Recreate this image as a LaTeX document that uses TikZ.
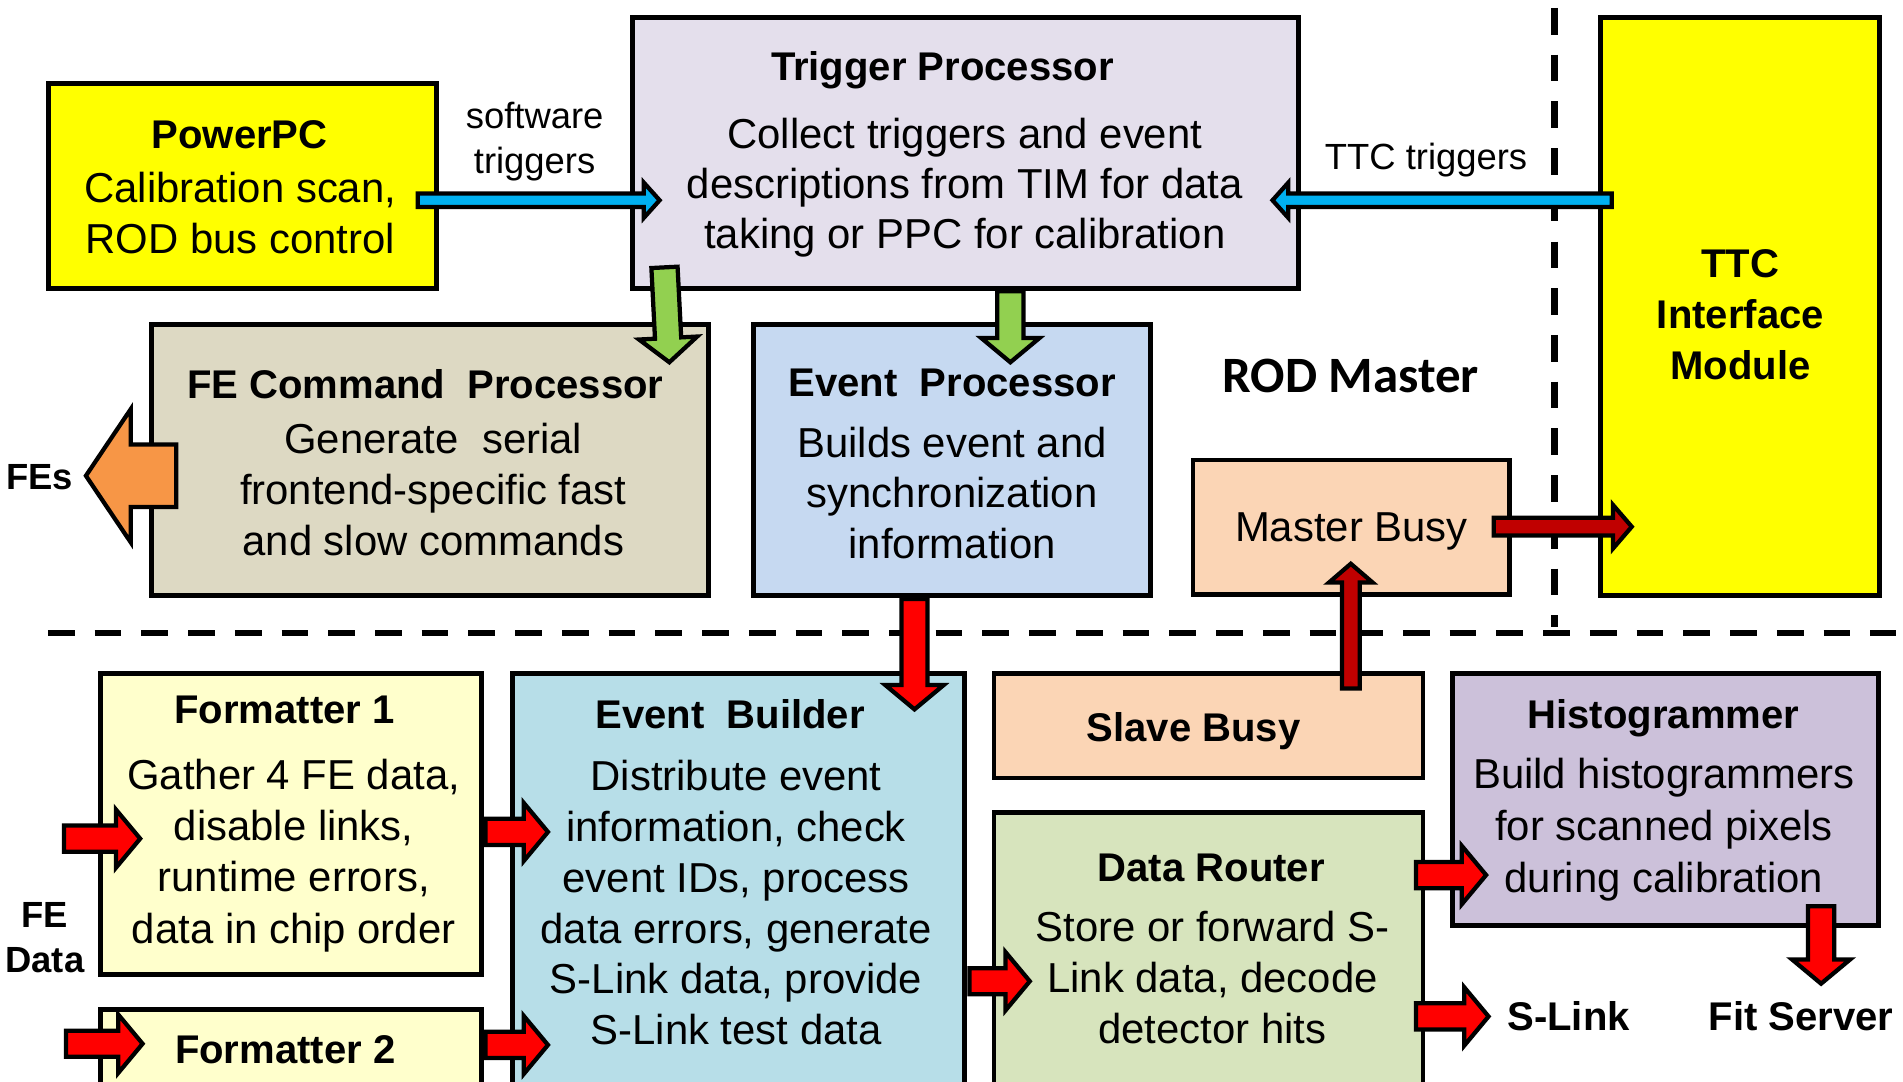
\documentclass[tikz,border=0pt]{standalone}
\usepackage{fontspec}
\setmainfont{Liberation Sans}
\newfontfamily\rodfont{Carlito}
\usetikzlibrary{calc}

% module fills
\definecolor{ppcyellow}{HTML}{FFFF00}
\definecolor{trigfill}{HTML}{E4DFEC}
\definecolor{fecfill}{HTML}{DDD9C3}
\definecolor{evpfill}{HTML}{C6D9F1}
\definecolor{busyfill}{HTML}{FBD5B5}
\definecolor{fmtfill}{HTML}{FFFFCC}
\definecolor{evbfill}{HTML}{B7DEE8}
\definecolor{drtfill}{HTML}{D7E4BD}
\definecolor{histfill}{HTML}{CCC1DA}
% arrow fills
\definecolor{trigblue}{HTML}{00B0F0}
\definecolor{cmdgreen}{HTML}{92D050}
\definecolor{feorange}{HTML}{F79646}
\definecolor{datared}{HTML}{FF0000}
\definecolor{busyred}{HTML}{C00000}

% multi-line texts are placed by the baseline of their last line
\tikzset{
  modbox/.style={draw=black, line width=4pt, rectangle, inner sep=0pt},
  arrowline/.style={draw=black, line width=3.5pt, line join=miter},
  sepline/.style={line width=5.5pt, dash pattern=on 22pt off 16.5pt},
  boxtitle/.style={font=\bfseries\fontsize{33}{42}\selectfont, inner sep=0pt, align=center, anchor=base},
  boxbody/.style={font=\fontsize{34.5}{42}\selectfont, inner sep=0pt, align=center, anchor=base},
  sidelabel/.style={font=\fontsize{30}{37}\selectfont, inner sep=0pt, align=center, anchor=base},
  outlabel/.style={font=\bfseries\fontsize{30}{37.5}\selectfont, inner sep=0pt, align=center, anchor=base},
  sinklabel/.style={font=\bfseries\fontsize{33}{42}\selectfont, inner sep=0pt, anchor=base},
}

% module box from its corners: name, x1, y1, x2, y2, fill
\newcommand{\RodBox}[6]{%
  \node[modbox, fill=#6, minimum width={(#4-#2)*1pt}, minimum height={(#5-#3)*1pt}]
    (#1) at ({(#2+#4)/2},{(#3+#5)/2}) {};}

% outlined block arrow: fill, half shaft, half head, head length, from, to
\newcommand{\BlkArrow}[6]{%
  \coordinate (bac) at ($(#6)!#4!(#5)$);
  \filldraw[arrowline, fill=#1]
    ($(#5)!#2!90:(#6)$) -- ($(bac)!#2!90:(#6)$) -- ($(bac)!#3!90:(#6)$) -- (#6)
    -- ($(bac)!#3!-90:(#6)$) -- ($(bac)!#2!-90:(#6)$) -- ($(#5)!#2!-90:(#6)$) -- cycle;}
\newcommand{\TrigArrow}[2]{\BlkArrow{trigblue}{5.5pt}{14.5pt}{13pt}{#1}{#2}}
\newcommand{\FlowArrow}[3]{\BlkArrow{#1}{10.8pt}{24pt}{20pt}{#2}{#3}}
\newcommand{\BusyArrow}[2]{\BlkArrow{busyred}{7.3pt}{18pt}{15.5pt}{#1}{#2}}
\newcommand{\FeArrow}[2]{\BlkArrow{feorange}{25.7pt}{55pt}{37pt}{#1}{#2}}

\begin{document}
\begin{tikzpicture}[x=1pt, y=-1pt]
\useasboundingbox (0,0) rectangle (1568,891);
\fill[white] (0,0) rectangle (1568,891);
\clip (0,0) rectangle (1568,891);

% ROD master / slave and ROD / TIM separators
\coordinate (hsep-w) at (39.5,521.5);
\coordinate (hsep-e) at (1562,521.5);
\coordinate (vsep-n) at (1281,6.5);
\coordinate (vsep-s) at (1281,516.5);
\draw[sepline] (hsep-w) -- (hsep-e);
\draw[sepline] (vsep-n) -- (vsep-s);

% modules
\RodBox{ppc}{40}{68.5}{359.5}{238}{ppcyellow}
\RodBox{trig}{521.5}{14.5}{1070}{237.5}{trigfill}
\RodBox{ttc}{1318.5}{14.5}{1548.5}{491}{ppcyellow}
\RodBox{fec}{124.5}{267.5}{584}{491}{fecfill}
\RodBox{evp}{621}{267.5}{948}{491}{evpfill}
\RodBox{mbusy}{983}{379}{1244}{489.5}{busyfill}
\RodBox{fmt1}{82.5}{555}{397}{803}{fmtfill}
\RodBox{fmt2}{82.5}{831.5}{397}{960}{fmtfill}
\RodBox{evb}{422}{555}{795}{960}{evbfill}
\RodBox{sbusy}{819}{555}{1172.5}{641}{busyfill}
\RodBox{drt}{819}{669.5}{1172.5}{960}{drtfill}
\RodBox{hist}{1197}{555}{1548}{762.5}{histfill}

% module texts
\node[boxtitle] (ppc-t) at (197.5,122) {PowerPC};
\node[boxbody] (ppc-b) at (198,208.5) {Calibration scan,\\ROD bus control};
\node[boxtitle] (trig-t) at (776.5,66) {Trigger Processor};
\node[boxbody, font=\fontsize{34.5}{41.3}\selectfont] (trig-b) at (795,204.6)
  {Collect triggers and event\\descriptions from TIM for data\\taking or PPC for calibration};
\node[boxtitle] (ttc-t) at (1434,313) {TTC\\Interface\\Module};
\node[boxtitle] (fec-t) at (350.5,328) {FE Command~~Processor};
\node[boxbody] (fec-b) at (357,458) {Generate~~serial\\frontend-specific fast\\and slow commands};
\node[boxtitle] (evp-t) at (784.5,327) {Event~~Processor};
\node[boxbody, font=\fontsize{34.5}{41.7}\selectfont] (evp-b) at (784.5,460)
  {Builds event and\\synchronization\\information};
\node[inner sep=0pt, anchor=base, font=\rodfont\bfseries\fontsize{42}{50}\selectfont]
  (rodm) at (1113,323) {ROD Master};
\node[boxbody] (mbusy-t) at (1113.5,446.5) {Master Busy};
\node[boxtitle] (fmt1-t) at (234.5,596) {Formatter 1};
\node[boxbody, font=\fontsize{34.5}{42.3}\selectfont] (fmt1-b) at (242,777)
  {Gather 4 FE data,\\disable links,\\runtime errors,\\data in chip order};
\node[boxtitle] (fmt2-t) at (235,876) {Formatter 2};
\node[boxtitle] (evb-t) at (601.5,600) {Event~~Builder};
\node[boxbody] (evb-b) at (606.5,861)
  {Distribute event\\information, check\\event IDs, process\\data errors, generate\\S-Link data, provide\\S-Link test data};
\node[boxtitle] (sbusy-t) at (983.5,611) {Slave Busy};
\node[boxtitle] (drt-t) at (998,726) {Data Router};
\node[boxbody] (drt-b) at (999,860) {Store or forward S-\\Link data, decode\\detector hits};
\node[boxtitle] (hist-t) at (1370.5,600) {Histogrammer};
\node[boxbody, font=\fontsize{34.5}{42.7}\selectfont] (hist-b) at (1371,735)
  {Build histogrammers\\for scanned pixels\\during calibration};

% outside labels
\node[sidelabel] (swtrig) at (440.5,143) {software\\triggers};
\node[sidelabel] (ttctrig) at (1175,139.5) {TTC triggers};
\node[outlabel] (fes) at (32.5,403) {FEs};
\node[outlabel] (fedata) at (37,801.5) {FE\\Data};
\node[sinklabel] (slink) at (1292.5,849) {S-Link};
\node[sinklabel] (fit) at (1484,849) {Fit Server};

% trigger paths
\TrigArrow{$(ppc.east)+(-17.2,11.75)$}{$(trig.west)+(24,39)$}
\TrigArrow{$(ttc.west)+(11.5,-87.75)$}{$(trig.east)+(-23.5,39)$}
\FlowArrow{cmdgreen}{$(trig.south west)+(28,-19.2)$}{$(fec.north east)+(-34.5,33)$}
\FlowArrow{cmdgreen}{$(trig.south)+(36.75,0.5)$}{$(evp.north)+(48,33)$}
\FeArrow{$(fec.west)+(22.8,12.75)$}{$(fes.base)+(38.3,-11)$}

% busy chain
\BusyArrow{$(mbusy.east)+(-15.2,-0.25)$}{$(ttc.west)+(28,181.25)$}
\BusyArrow{$(sbusy.north)+(117.25,14.3)$}{$(mbusy.south)+(-0.5,-27)$}

% data path
\coordinate (fein1) at (52.8,691);
\coordinate (fein2) at (54.3,860);
\FlowArrow{datared}{$(evp.south)+(-31,0.5)$}{$(evb.north)+(145,31.5)$}
\FlowArrow{datared}{fein1}{$(fmt1.west)+(35,12)$}
\FlowArrow{datared}{fein2}{$(fmt2.west)+(37,-35.75)$}
\FlowArrow{datared}{$(fmt1.east)+(1,6.5)$}{$(evb.west)+(31.5,-72)$}
\FlowArrow{datared}{$(fmt2.east)+(1,-34.75)$}{$(evb.west)+(31.5,103.5)$}
\FlowArrow{datared}{$(evb.east)+(1.8,51)$}{$(drt.west)+(31.5,-6.25)$}
\FlowArrow{datared}{$(drt.east)+(-7.7,-93.75)$}{$(hist.west)+(29.5,62.25)$}
\FlowArrow{datared}{$(drt.east)+(-7.7,22.75)$}{$(slink.base)+(-66,-11.5)$}
\FlowArrow{datared}{$(hist.south)+(128,-17.7)$}{$(fit.base)+(16.5,-38.5)$}
\end{tikzpicture}
\end{document}
